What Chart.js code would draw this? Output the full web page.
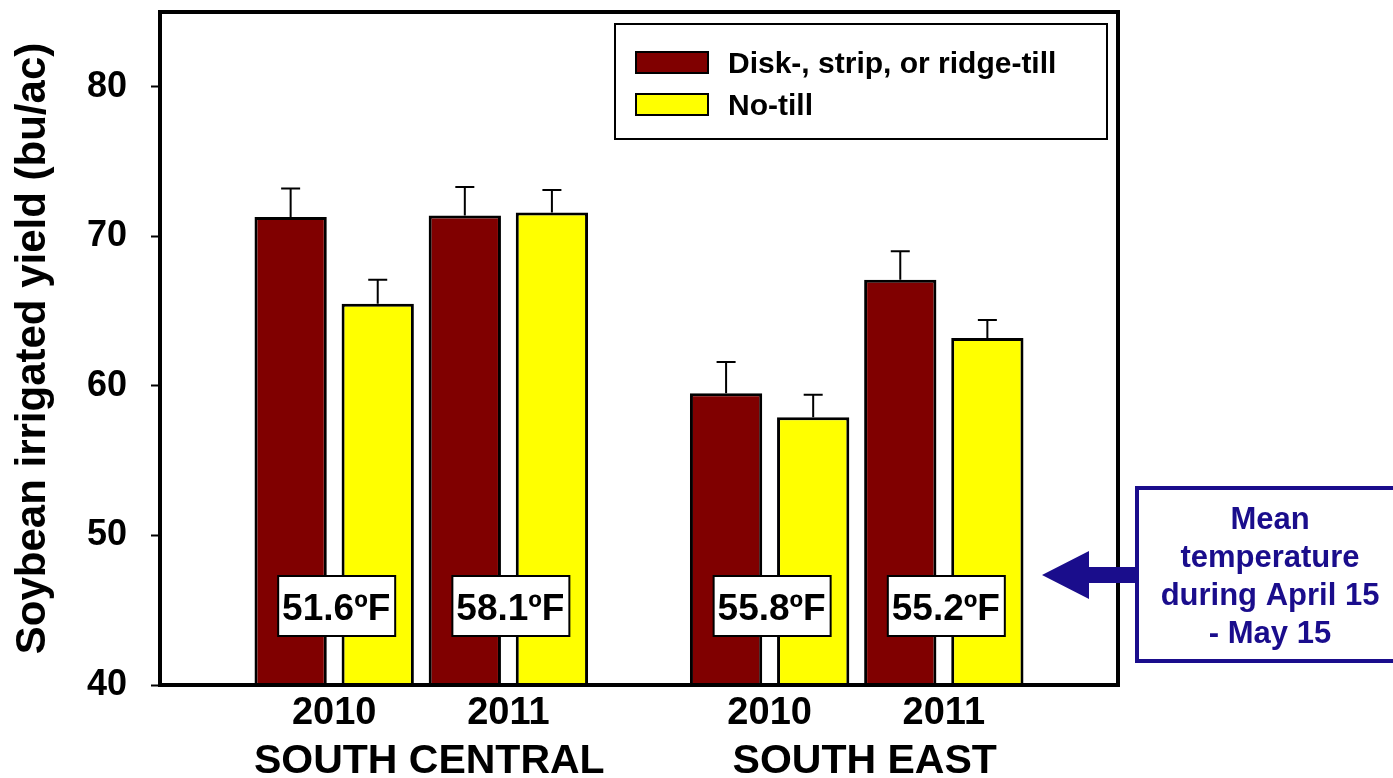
<!DOCTYPE html>
<html>
<head>
<meta charset="utf-8">
<script src="https://cdn.jsdelivr.net/npm/chart.js@4.4.1/dist/chart.umd.min.js"></script>
<style>
  body { margin: 0; background: #fff; }
  #wrap { width: 1393px; height: 778px; }
</style>
</head>
<body>
<div id="wrap"><canvas id="chart"></canvas></div>
<script>
// --- data ---
const years = ['2010', '2011', '2010', '2011'];
const regions = ['SOUTH CENTRAL', 'SOUTH EAST'];
const regionOf = [0, 0, 1, 1];
const seriesNames = ['Disk-, strip, or ridge-till', 'No-till'];
const tillYield = [71.3, 71.4, 59.5, 67.1];
const tillErr = [1.9, 1.9, 2.1, 1.9];
const noTillYield = [65.5, 71.6, 57.9, 63.2];
const noTillErr = [1.6, 1.5, 1.5, 1.2];
const temps = ['51.6ºF', '58.1ºF', '55.8ºF', '55.2ºF'];
const yTicks = [40, 50, 60, 70, 80];
const noteLines = ['Mean', 'temperature', 'during April 15', '- May 15'];

const FONT = '"Liberation Sans", Arial, sans-serif';
const RED = '#800000';
const YELLOW = '#FFFF00';
const NAVY = '#1A0D8C';

// slot on the x axis: one per year, half a slot extra between regions
function slotOf(i) {
    return 1 + i + regionOf[i] * 0.5;
}
const slots = years.map((y, i) => slotOf(i));

function toPoints(values) {
    return values.map((v, i) => ({ x: slots[i], y: v }));
}

// error bars (upward only, with cap)
const errorBars = {
    id: 'errorBars',
    afterDatasetsDraw(chart) {
        const ctx = chart.ctx;
        const yScale = chart.scales.y;
        chart.data.datasets.forEach((ds, di) => {
            const meta = chart.getDatasetMeta(di);
            meta.data.forEach((bar, i) => {
                const top = yScale.getPixelForValue(ds.data[i].y + ds.errors[i]);
                ctx.save();
                ctx.strokeStyle = '#000';
                ctx.lineWidth = 2;
                ctx.beginPath();
                ctx.moveTo(bar.x, bar.y);
                ctx.lineTo(bar.x, top);
                ctx.moveTo(bar.x - 9.5, top);
                ctx.lineTo(bar.x + 9.5, top);
                ctx.stroke();
                ctx.restore();
            });
        });
    }
};

// temperature boxes, the frame and the group names
const extras = {
    id: 'extras',
    afterDatasetsDraw(chart) {
        const ctx = chart.ctx;
        const xs = chart.scales.x;
        const area = chart.chartArea;

        // temperature labels
        ctx.save();
        temps.forEach((t, i) => {
            const cx = xs.getPixelForValue(slots[i]) + 2;
            const cy = area.bottom - 79;
            ctx.fillStyle = '#fff';
            ctx.fillRect(cx - 58, cy - 30, 117, 60);
            ctx.strokeStyle = '#000';
            ctx.lineWidth = 2;
            ctx.strokeRect(cx - 58, cy - 30, 117, 60);
            ctx.fillStyle = '#000';
            ctx.font = 'bold 37px ' + FONT;
            ctx.textAlign = 'center';
            ctx.textBaseline = 'alphabetic';
            ctx.fillText(t, cx, cy + 14);
        });
        ctx.restore();

        // frame
        ctx.save();
        ctx.strokeStyle = '#000';
        ctx.lineWidth = 4;
        ctx.strokeRect(area.left, area.top, area.right - area.left, area.bottom - area.top);
        ctx.restore();

        // region names under the years
        ctx.save();
        ctx.fillStyle = '#000';
        ctx.font = 'bold 41px ' + FONT;
        ctx.textAlign = 'center';
        ctx.textBaseline = 'alphabetic';
        regions.forEach((r, ri) => {
            const idx = regionOf.map((g, i) => g === ri ? i : -1).filter(i => i >= 0);
            const mid = (slots[idx[0]] + slots[idx[idx.length - 1]]) / 2;
            ctx.fillText(r, xs.getPixelForValue(mid) + 8, area.bottom + 88);
        });
        ctx.restore();
    },
    afterDraw(chart) {
        const ctx = chart.ctx;
        const area = chart.chartArea;

        // legend box
        ctx.save();
        const lx = 615, ly = 24;
        ctx.fillStyle = '#fff';
        ctx.fillRect(lx, ly, 492, 115);
        ctx.strokeStyle = '#000';
        ctx.lineWidth = 2;
        ctx.strokeRect(lx, ly, 492, 115);
        chart.data.datasets.forEach((ds, i) => {
            const sy = ly + 28 + i * 42;
            ctx.fillStyle = ds.backgroundColor;
            ctx.fillRect(lx + 21, sy, 72, 21);
            ctx.strokeStyle = '#000';
            ctx.lineWidth = 2;
            ctx.strokeRect(lx + 21, sy, 72, 21);
            ctx.fillStyle = '#000';
            ctx.font = 'bold 30px ' + FONT;
            ctx.textAlign = 'left';
            ctx.textBaseline = 'alphabetic';
            ctx.fillText(ds.label, lx + 113, sy + 21);
        });
        ctx.restore();

        // note box with arrow
        ctx.save();
        const bx = area.right + 19;
        ctx.strokeStyle = NAVY;
        ctx.lineWidth = 4;
        ctx.strokeRect(bx, 488, 300, 173);
        ctx.fillStyle = NAVY;
        ctx.font = 'bold 31px ' + FONT;
        ctx.textAlign = 'center';
        ctx.textBaseline = 'alphabetic';
        noteLines.forEach((l, i) => ctx.fillText(l, 1270, 529 + i * 38));
        const ay = 575;
        ctx.beginPath();
        ctx.moveTo(area.right - 76, ay);
        ctx.lineTo(area.right - 29, ay - 24);
        ctx.lineTo(area.right - 29, ay - 8);
        ctx.lineTo(bx, ay - 8);
        ctx.lineTo(bx, ay + 8);
        ctx.lineTo(area.right - 29, ay + 8);
        ctx.lineTo(area.right - 29, ay + 24);
        ctx.closePath();
        ctx.fill();
        ctx.restore();
    }
};

function noPad(s) {
    s.paddingTop = 0;
    s.paddingBottom = 0;
    s.paddingLeft = 0;
    s.paddingRight = 0;
}

new Chart(document.getElementById('chart'), {
    type: 'bar',
    data: {
        datasets: [
            {
                label: seriesNames[0],
                data: toPoints(tillYield),
                errors: tillErr,
                backgroundColor: RED,
                borderColor: '#000',
                borderWidth: 3
            },
            {
                label: seriesNames[1],
                data: toPoints(noTillYield),
                errors: noTillErr,
                backgroundColor: YELLOW,
                borderColor: '#000',
                borderWidth: 3
            }
        ]
    },
    options: {
        responsive: true,
        maintainAspectRatio: false,
        animation: false,
        categoryPercentage: 1.0,
        barPercentage: 0.83,
        layout: { padding: { top: 12, right: 275, left: 0, bottom: 0 } },
        plugins: {
            legend: { display: false },
            tooltip: { enabled: false }
        },
        scales: {
            x: {
                type: 'linear',
                min: 0,
                max: 5.5,
                offset: false,
                grid: { display: false, drawTicks: false },
                border: { display: false },
                afterBuildTicks: s => { s.ticks = slots.map(v => ({ value: v })); },
                afterFit: s => { s.height = 93; noPad(s); },
                ticks: {
                    padding: 6,
                    color: '#000',
                    font: { family: FONT, size: 38, weight: 'bold' },
                    callback: (v) => years[slots.indexOf(v)] || ''
                }
            },
            y: {
                min: 40,
                max: 85,
                afterBuildTicks: s => { s.ticks = yTicks.map(v => ({ value: v })); },
                afterFit: s => { s.width = 160; noPad(s); },
                grid: {
                    drawOnChartArea: false,
                    drawTicks: true,
                    tickLength: 9,
                    tickWidth: 2,
                    tickColor: '#000'
                },
                border: { display: false },
                ticks: {
                    padding: 24,
                    color: '#000',
                    font: { family: FONT, size: 36, weight: 'bold' }
                },
                title: {
                    display: true,
                    text: 'Soybean irrigated yield (bu/ac)',
                    color: '#000',
                    font: { family: FONT, size: 42, weight: 'bold' },
                    padding: { top: 8, bottom: 0 }
                }
            }
        }
    },
    plugins: [errorBars, extras]
});
</script>
</body>
</html>
